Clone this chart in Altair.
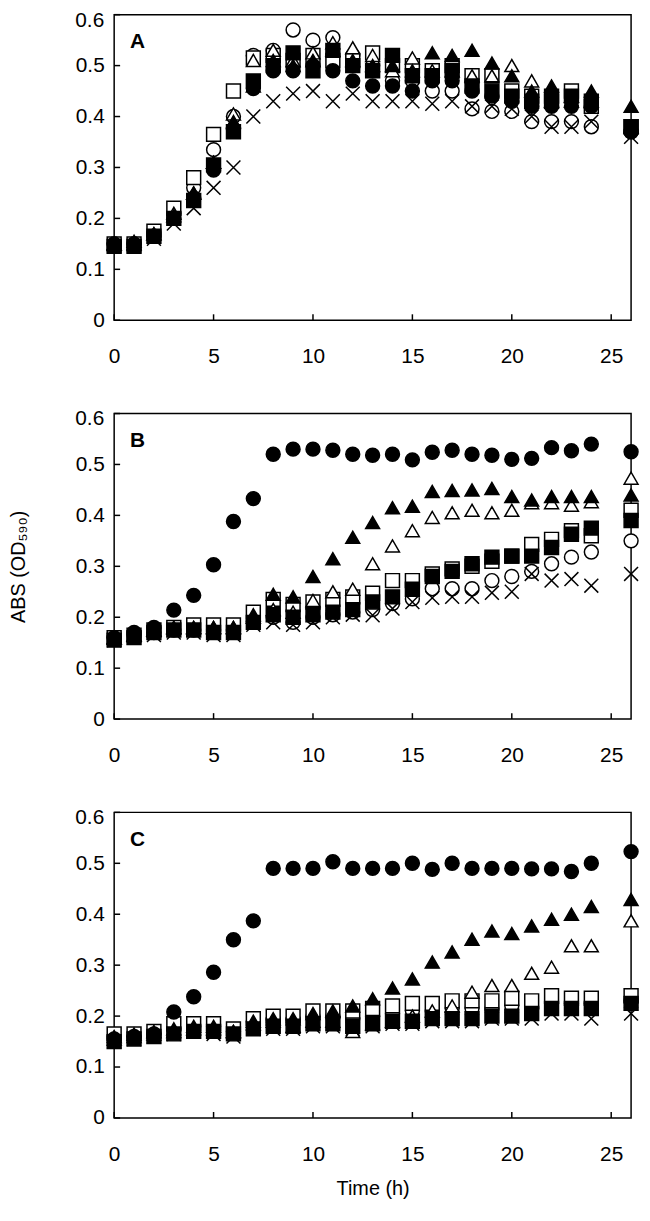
import altair as alt
import pandas as pd

times = list(range(25)) + [26]
series = ["open circle", "open square", "open triangle", "cross",
          "filled circle", "filled square", "filled triangle"]
shapes = ["circle", "square", "triangle-up", "M-1,-1L1,1M1,-1L-1,1",
          "circle", "square", "triangle-up"]
fills = ["white", "white", "white", "transparent", "black", "black", "black"]

x_ticks = [0, 5, 10, 15, 20, 25]
y_ticks = [0, 0.1, 0.2, 0.3, 0.4, 0.5, 0.6]

# ---- Panel A ----
A_fc = [0.15, 0.15, 0.165, 0.20, 0.24, 0.295, 0.375, 0.455, 0.49, 0.49, 0.50, 0.49, 0.47, 0.46, 0.46, 0.45, 0.47, 0.47, 0.45, 0.44, 0.43, 0.42, 0.42, 0.42, 0.42, 0.37]
A_oc = [0.15, 0.15, 0.17, 0.21, 0.26, 0.335, 0.40, 0.52, 0.53, 0.57, 0.55, 0.555, 0.52, 0.50, 0.47, 0.47, 0.45, 0.45, 0.415, 0.41, 0.41, 0.39, 0.39, 0.39, 0.38, 0.37]
A_fs = [0.145, 0.145, 0.165, 0.20, 0.235, 0.305, 0.37, 0.47, 0.50, 0.525, 0.49, 0.53, 0.50, 0.49, 0.52, 0.48, 0.48, 0.49, 0.46, 0.45, 0.44, 0.43, 0.44, 0.44, 0.43, 0.38]
A_os = [0.15, 0.15, 0.175, 0.22, 0.28, 0.365, 0.45, 0.515, 0.52, 0.51, 0.52, 0.51, 0.51, 0.525, 0.50, 0.50, 0.49, 0.50, 0.48, 0.48, 0.45, 0.44, 0.43, 0.45, 0.42, 0.38]
A_ft = [0.15, 0.15, 0.17, 0.205, 0.25, 0.31, 0.39, 0.46, 0.51, 0.50, 0.51, 0.53, 0.51, 0.50, 0.50, 0.49, 0.525, 0.52, 0.53, 0.505, 0.48, 0.45, 0.46, 0.44, 0.45, 0.42]
A_ot = [0.15, 0.155, 0.17, 0.21, 0.25, 0.31, 0.405, 0.51, 0.53, 0.51, 0.525, 0.545, 0.535, 0.52, 0.49, 0.515, 0.49, 0.49, 0.48, 0.48, 0.50, 0.47, 0.43, 0.43, 0.43, 0.38]
A_x = [0.145, 0.145, 0.16, 0.19, 0.22, 0.26, 0.30, 0.40, 0.43, 0.445, 0.45, 0.43, 0.445, 0.43, 0.43, 0.43, 0.425, 0.43, 0.42, 0.42, 0.415, 0.40, 0.38, 0.38, 0.39, 0.36]

# ---- Panel B ----
B_fc = [0.16, 0.17, 0.18, 0.214, 0.243, 0.303, 0.388, 0.433, 0.52, 0.53, 0.53, 0.528, 0.52, 0.518, 0.52, 0.509, 0.524, 0.528, 0.52, 0.518, 0.51, 0.512, 0.533, 0.527, 0.54, 0.525]
B_oc = [0.16, 0.165, 0.17, 0.175, 0.175, 0.175, 0.175, 0.19, 0.20, 0.19, 0.20, 0.205, 0.21, 0.215, 0.227, 0.236, 0.256, 0.256, 0.256, 0.272, 0.28, 0.29, 0.305, 0.318, 0.328, 0.35]
B_fs = [0.155, 0.16, 0.17, 0.175, 0.175, 0.17, 0.17, 0.19, 0.205, 0.20, 0.205, 0.21, 0.215, 0.23, 0.24, 0.255, 0.28, 0.29, 0.305, 0.318, 0.32, 0.32, 0.337, 0.363, 0.375, 0.39]
B_os = [0.16, 0.165, 0.175, 0.18, 0.185, 0.185, 0.185, 0.21, 0.235, 0.225, 0.23, 0.235, 0.24, 0.247, 0.272, 0.272, 0.285, 0.295, 0.30, 0.31, 0.32, 0.343, 0.353, 0.37, 0.36, 0.41]
B_ft = [0.16, 0.165, 0.175, 0.18, 0.18, 0.18, 0.18, 0.205, 0.245, 0.24, 0.28, 0.315, 0.357, 0.386, 0.415, 0.418, 0.447, 0.449, 0.45, 0.453, 0.437, 0.43, 0.437, 0.437, 0.437, 0.44]
B_ot = [0.16, 0.165, 0.175, 0.18, 0.18, 0.18, 0.18, 0.20, 0.215, 0.21, 0.233, 0.25, 0.255, 0.305, 0.34, 0.37, 0.396, 0.405, 0.41, 0.405, 0.41, 0.425, 0.425, 0.42, 0.427, 0.473]
B_x = [0.155, 0.16, 0.165, 0.17, 0.17, 0.165, 0.165, 0.185, 0.19, 0.185, 0.19, 0.20, 0.205, 0.204, 0.217, 0.23, 0.238, 0.24, 0.24, 0.248, 0.25, 0.285, 0.272, 0.275, 0.262, 0.285]

# ---- Panel C ----
C_fc = [0.155, 0.16, 0.165, 0.208, 0.238, 0.286, 0.35, 0.387, 0.49, 0.49, 0.49, 0.503, 0.49, 0.49, 0.49, 0.50, 0.488, 0.50, 0.49, 0.49, 0.49, 0.489, 0.489, 0.484, 0.50, 0.523]
C_oc = [0.16, 0.16, 0.165, 0.175, 0.18, 0.18, 0.17, 0.19, 0.195, 0.195, 0.20, 0.20, 0.195, 0.20, 0.205, 0.21, 0.21, 0.215, 0.215, 0.215, 0.22, 0.215, 0.225, 0.225, 0.225, 0.23]
C_fs = [0.15, 0.155, 0.16, 0.165, 0.17, 0.17, 0.165, 0.175, 0.18, 0.18, 0.185, 0.185, 0.18, 0.185, 0.19, 0.19, 0.195, 0.195, 0.195, 0.20, 0.20, 0.205, 0.215, 0.215, 0.215, 0.225]
C_os = [0.165, 0.165, 0.17, 0.185, 0.185, 0.185, 0.175, 0.195, 0.20, 0.20, 0.21, 0.21, 0.21, 0.215, 0.22, 0.225, 0.225, 0.23, 0.23, 0.23, 0.235, 0.23, 0.24, 0.235, 0.235, 0.24]
C_ft = [0.16, 0.165, 0.17, 0.175, 0.18, 0.18, 0.17, 0.19, 0.195, 0.195, 0.205, 0.21, 0.22, 0.234, 0.255, 0.273, 0.306, 0.326, 0.351, 0.367, 0.362, 0.377, 0.39, 0.40, 0.415, 0.429]
C_ot = [0.155, 0.16, 0.165, 0.17, 0.175, 0.175, 0.17, 0.185, 0.19, 0.18, 0.19, 0.19, 0.17, 0.185, 0.19, 0.20, 0.21, 0.22, 0.247, 0.26, 0.26, 0.284, 0.296, 0.338, 0.338, 0.387]
C_x = [0.15, 0.155, 0.16, 0.165, 0.17, 0.165, 0.16, 0.175, 0.175, 0.175, 0.18, 0.18, 0.175, 0.18, 0.185, 0.185, 0.19, 0.19, 0.19, 0.195, 0.195, 0.195, 0.205, 0.205, 0.195, 0.205]

panels = {
    "A": dict(zip(series, [A_oc, A_os, A_ot, A_x, A_fc, A_fs, A_ft])),
    "B": dict(zip(series, [B_oc, B_os, B_ot, B_x, B_fc, B_fs, B_ft])),
    "C": dict(zip(series, [C_oc, C_os, C_ot, C_x, C_fc, C_fs, C_ft])),
}

rows = []
for p, sd in panels.items():
    for s in series:
        for t, v in zip(times, sd[s]):
            rows.append({"panel": p, "series": s, "t": t, "v": v})
df = pd.DataFrame(rows)

FONT = "Liberation Sans"
W, H = 521, 308
YTITLE = "ABS (OD₅₉₀)"


def make_panel(letter, show_xtitle, show_ytitle):
    d = df[df.panel == letter]
    xenc = alt.X("t:Q", scale=alt.Scale(domain=[0, 26], nice=False),
                 axis=alt.Axis(values=x_ticks, ticks=False, domain=False, grid=False,
                               labelFontSize=21, labelPadding=26, labelFlush=False,
                               titleFontSize=20, titleFontWeight="normal", titlePadding=14),
                 title="Time (h)" if show_xtitle else None)
    yenc = alt.Y("v:Q", scale=alt.Scale(domain=[0, 0.6], nice=False),
                 axis=alt.Axis(values=y_ticks[:-1], format=".1~f", ticks=False, domain=False, grid=False,
                               labelFontSize=21, labelPadding=10, labelFlush=False,
                               titleFontSize=20, titleFontWeight="normal", titlePadding=47,
                               titleOpacity=1 if show_ytitle else 0),
                 title=YTITLE)
    pts = alt.Chart(d).mark_point(filled=True, stroke="black", strokeWidth=1.5,
                                  size=196, opacity=1).encode(
        x=xenc, y=yenc,
        shape=alt.Shape("series:N", scale=alt.Scale(domain=series, range=shapes), legend=None),
        fill=alt.Fill("series:N", scale=alt.Scale(domain=series, range=fills), legend=None),
    )
    yt = alt.Chart(pd.DataFrame({"yv": y_ticks})).mark_rule(color="black", strokeWidth=1.5).encode(
        y="yv:Q", x=alt.value(0), x2=alt.value(6))
    xt = alt.Chart(pd.DataFrame({"xv": x_ticks})).mark_rule(color="black", strokeWidth=1.5).encode(
        x="xv:Q", y=alt.value(H), y2=alt.value(H - 6))
    top_lab = alt.Chart(pd.DataFrame({"yv": [y_ticks[-1]], "txt": ["0.6"]})).mark_text(
        font=FONT, fontSize=21, align="right", baseline="middle", color="black", dy=6
    ).encode(text="txt:N", y="yv:Q", x=alt.value(-10))
    lab = alt.Chart(pd.DataFrame({"label": [letter]})).mark_text(
        font=FONT, fontSize=21, fontWeight="bold", align="left", baseline="middle", color="black"
    ).encode(text="label:N", x=alt.value(16), y=alt.value(28))
    return alt.layer(yt, xt, pts, lab, top_lab).properties(width=W, height=H)


chart = alt.vconcat(
    make_panel("A", False, False),
    make_panel("B", False, True),
    make_panel("C", True, False),
    spacing=40,
).properties(
    padding={"left": 0, "top": -4, "right": 0, "bottom": 0}
).configure_view(
    stroke="black", strokeWidth=1.5
).configure_axis(
    labelColor="black", titleColor="black", labelFont=FONT, titleFont=FONT
)

chart.save("out.html", embed_options={"renderer": "svg", "actions": False})
